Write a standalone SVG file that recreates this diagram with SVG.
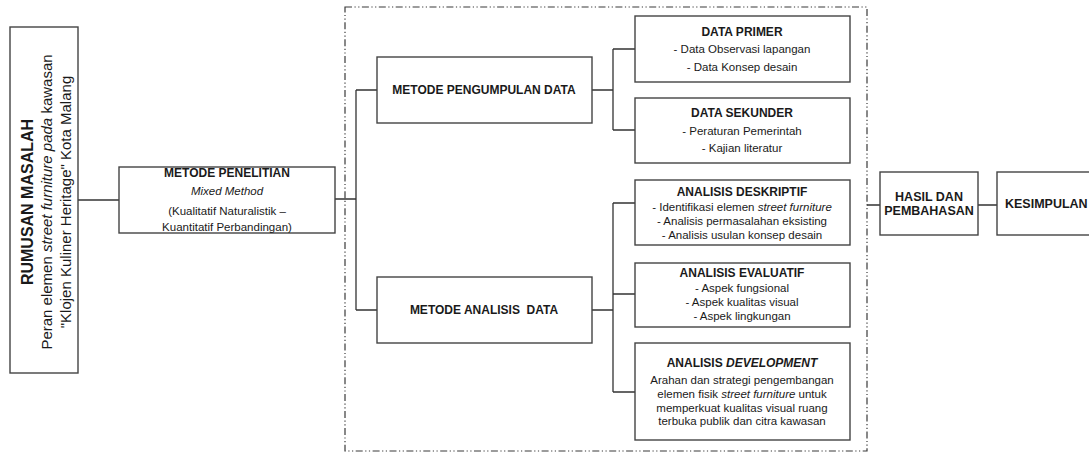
<svg xmlns="http://www.w3.org/2000/svg" width="1089" height="452" viewBox="0 0 1089 452">
<style>
.box{fill:#fff;stroke:#444;stroke-width:1.4}
.ln{fill:none;stroke:#333;stroke-width:1.3}
.t{font-family:"Liberation Sans",Arial,sans-serif;fill:#1a1a1a;text-anchor:middle}
.b{font-weight:bold;font-size:12px}
.r{font-size:11.5px}
.i{font-style:italic}
</style>
<rect width="1089" height="452" fill="#fff"/>
<rect id="frame" x="345" y="7" width="522" height="444" fill="none" stroke="#3a3a3a" stroke-width="1.2" stroke-dasharray="7 2.5 1.2 2.5 1.2 2.5"/>
<g id="connectors">
<path class="ln" d="M78 200H119"/>
<path class="ln" d="M335 199H356M356 90V310M356 90H377M356 310H377"/>
<path class="ln" d="M592 90H613M613 49V130M613 49H635M613 130H635"/>
<path class="ln" d="M592 310H613M613 203V392M613 203H635M613 294H635M613 392H635"/>
<path class="ln" d="M867 205H880M978 205H997"/>
</g>
<g id="rumusan">
<rect class="box" x="10" y="27" width="68" height="346"/>
<text class="t" font-weight="bold" font-size="16" transform="translate(33,202) rotate(-90)">RUMUSAN MASALAH</text>
<text class="t" font-size="15" transform="translate(52,202) rotate(-90)">Peran elemen <tspan class="i">street furniture pada</tspan> kawasan</text>
<text class="t" font-size="15" transform="translate(71,202) rotate(-90)">"Klojen Kuliner Heritage" Kota Malang</text>
</g>
<g id="penelitian">
<rect class="box" x="119" y="167" width="216" height="66"/>
<text class="t b" x="227" y="177">METODE PENELITIAN</text>
<text class="t r i" x="227" y="195">Mixed Method</text>
<text class="t r" x="227" y="215">(Kualitatif Naturalistik –</text>
<text class="t r" x="227" y="231">Kuantitatif Perbandingan)</text>
</g>
<g id="pengumpulan">
<rect class="box" x="377" y="57" width="215" height="66"/>
<text class="t b" x="484" y="94">METODE PENGUMPULAN DATA</text>
</g>
<g id="analisis">
<rect class="box" x="377" y="277" width="215" height="66"/>
<text class="t b" x="484" y="314" xml:space="preserve">METODE ANALISIS  DATA</text>
</g>
<g id="primer">
<rect class="box" x="635" y="16" width="215" height="66"/>
<text class="t b" x="742" y="36">DATA PRIMER</text>
<text class="t r" x="742" y="53">- Data Observasi lapangan</text>
<text class="t r" x="742" y="71">- Data Konsep desain</text>
</g>
<g id="sekunder">
<rect class="box" x="635" y="98" width="215" height="65"/>
<text class="t b" x="742" y="117">DATA SEKUNDER</text>
<text class="t r" x="742" y="135">- Peraturan Pemerintah</text>
<text class="t r" x="742" y="152">- Kajian literatur</text>
</g>
<g id="deskriptif">
<rect class="box" x="635" y="180" width="215" height="65"/>
<text class="t b" x="742" y="196">ANALISIS DESKRIPTIF</text>
<text class="t r" x="742" y="211">- Identifikasi elemen <tspan class="i">street furniture</tspan></text>
<text class="t r" x="742" y="225">- Analisis permasalahan eksisting</text>
<text class="t r" x="742" y="239">- Analisis usulan konsep desain</text>
</g>
<g id="evaluatif">
<rect class="box" x="635" y="263" width="215" height="64"/>
<text class="t b" x="742" y="277">ANALISIS EVALUATIF</text>
<text class="t r" x="742" y="292">- Aspek fungsional</text>
<text class="t r" x="742" y="306">- Aspek kualitas visual</text>
<text class="t r" x="742" y="320">- Aspek lingkungan</text>
</g>
<g id="development">
<rect class="box" x="635" y="343" width="215" height="97"/>
<text class="t b" x="742" y="367">ANALISIS <tspan class="i">DEVELOPMENT</tspan></text>
<text class="t r" x="742" y="384">Arahan dan strategi pengembangan</text>
<text class="t r" x="742" y="398">elemen fisik <tspan class="i">street furniture</tspan> untuk</text>
<text class="t r" x="742" y="412">memperkuat kualitas visual ruang</text>
<text class="t r" x="742" y="425">terbuka publik dan citra kawasan</text>
</g>
<g id="hasil">
<rect class="box" x="880" y="172" width="98" height="63"/>
<text class="t" font-weight="bold" font-size="12.5" x="929" y="201">HASIL DAN</text>
<text class="t" font-weight="bold" font-size="12.5" x="929" y="215">PEMBAHASAN</text>
</g>
<g id="kesimpulan">
<rect class="box" x="997" y="172" width="100" height="63"/>
<text class="t" font-weight="bold" font-size="12.5" x="1005" y="208" style="text-anchor:start">KESIMPULAN</text>
</g>
</svg>
